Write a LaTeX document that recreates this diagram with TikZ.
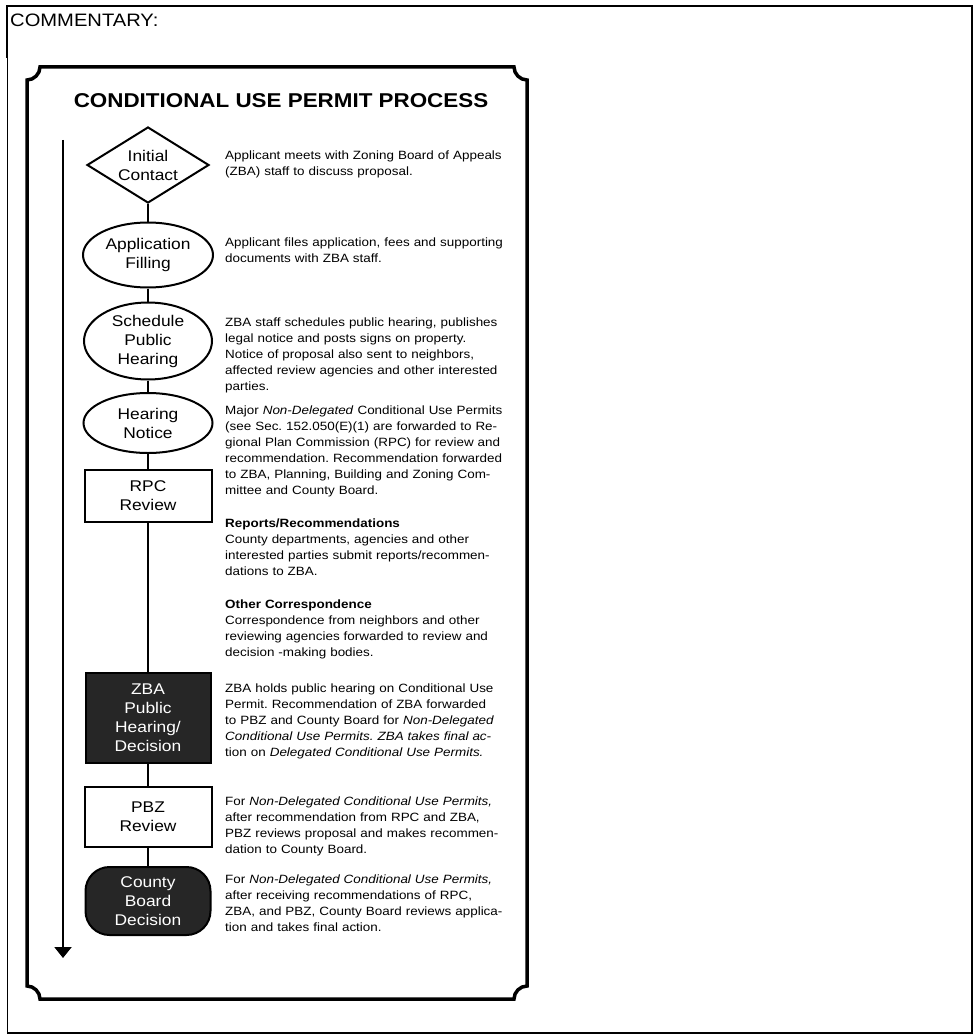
\documentclass[tikz,border=0pt]{standalone}
\usepackage{fontspec}
\setmainfont{Liberation Sans}[FakeStretch=1.12]
\usetikzlibrary{arrows.meta,shapes.geometric,positioning}

\newcommand\stagefont{\fontsize{15.5}{19}\selectfont}
\newcommand\notefont{\fontsize{12}{16}\selectfont\frenchspacing}

\begin{document}
\begin{tikzpicture}[x=1pt,y=-1pt,
    stage/.style={draw, line width=2pt, inner sep=0pt, align=center, font=\stagefont},
    oval/.style={stage, ellipse},
    stagebox/.style={stage, rectangle, minimum width=127pt},
    darkbox/.style={stagebox, fill=black!85, text=white},
    note/.style={anchor=base west, inner sep=0pt, text width=300pt, align=left, font=\notefont},
    link/.style={line width=2pt}]
        \useasboundingbox (0,0) rectangle (975,1035);

        % table cell
        \draw[line width=1.5pt] (7,58) -- (7,6) -- (972,6) -- (972,1033) -- (7,1033);
        \draw[line width=1pt] (7,58) -- (7,1033);
        \node[anchor=base west, inner sep=0pt, font=\fontsize{18}{20}\selectfont] (comment) at (10,27) {COMMENTARY:};

        % frame with notched corners
        \draw[line width=3.5pt] (40,67) -- (514,67) .. controls (514,74) and (520,80) .. (527,80)
            -- (527,986) .. controls (520,986) and (514,992) .. (514,999)
            -- (40,999) .. controls (40,992) and (34,986) .. (27,986)
            -- (27,80) .. controls (34,80) and (40,74) .. (40,67) -- cycle;

        \node[anchor=base, inner sep=0pt, font=\fontsize{20}{24}\selectfont\bfseries] (title) at (281,108) {CONDITIONAL USE PERMIT PROCESS};

        % stages
        \node[stage, diamond, aspect=1.6, minimum width=122pt, minimum height=76pt] (init) at (148,165) {Initial\\Contact};
        \node[oval, minimum width=130pt, minimum height=65pt] (filing) at (148,255) {Application\\Filling};
        \node[oval, minimum width=128pt, minimum height=77pt] (sched) at (148,341) {Schedule\\Public\\Hearing};
        \node[oval, minimum width=129pt, minimum height=60pt] (notice) at (148,423) {Hearing\\Notice};
        \node[stagebox, minimum height=52pt] (rpc) at (148,496) {RPC\\Review};
        \node[darkbox, minimum width=125pt, minimum height=90pt] (zba) at (148,718) {ZBA\\Public\\Hearing/\\Decision};
        \node[stagebox, minimum height=60pt] (pbz) at (148,817) {PBZ\\Review};
        \node[darkbox, minimum width=125pt, minimum height=68pt, rounded corners=24pt] (board) at (148,901) {County\\Board\\Decision};

        \draw[link] (init) -- (filing);
        \draw[link] (filing) -- (sched);
        \draw[link] (sched) -- (notice);
        \draw[link] (notice) -- (rpc);
        \draw[link] (rpc) -- (zba);
        \draw[link] (zba) -- (pbz);
        \draw[link] (pbz) -- (board);

        % time line
        \coordinate (flowtop) at (63,140);
        \coordinate (flowend) at (63,958);
        \draw[link, -{Triangle[width=17pt,length=11pt]}] (flowtop) -- (flowend);

        % notes
        \node[note] (initnote) at (225,160) {Applicant meets with Zoning Board of Appeals\\
            (ZBA) staff to discuss proposal.};
        \node[note] (filingnote) at (225,246) {Applicant files application, fees and supporting\\
            documents with ZBA staff.};
        \node[note] (schednote) at (225,326) {ZBA staff schedules public hearing, publishes\\
            legal notice and posts signs on property.\\
            Notice of proposal also sent to neighbors,\\
            affected review agencies and other interested\\
            parties.};
        \node[note] (rpcnote) at (225,414) {Major \textit{Non-Delegated} Conditional Use Permits\\
            (see Sec. 152.050(E)(1) are forwarded to Re-\\
            gional Plan Commission (RPC) for review and\\
            recommendation. Recommendation forwarded\\
            to ZBA, Planning, Building and Zoning Com-\\
            mittee and County Board.};
        \node[note] (reportnote) at (225,527) {\textbf{Reports/Recommendations}\\
            County departments, agencies and other\\
            interested parties submit reports/recommen-\\
            dations to ZBA.};
        \node[note] (othernote) at (225,608) {\textbf{Other Correspondence}\\
            Correspondence from neighbors and other\\
            reviewing agencies forwarded to review and\\
            decision -making bodies.};
        \node[note] (zbanote) at (225,692) {ZBA holds public hearing on Conditional Use\\
            Permit. Recommendation of ZBA forwarded\\
            to PBZ and County Board for \textit{Non-Delegated}\\
            \textit{Conditional Use Permits. ZBA takes final ac-}\\
            tion on \textit{Delegated Conditional Use Permits.}};
        \node[note] (pbznote) at (225,805) {For \textit{Non-Delegated Conditional Use Permits,}\\
            after recommendation from RPC and ZBA,\\
            PBZ reviews proposal and makes recommen-\\
            dation to County Board.};
        \node[note] (boardnote) at (225,883) {For \textit{Non-Delegated Conditional Use Permits,}\\
            after receiving recommendations of RPC,\\
            ZBA, and PBZ, County Board reviews applica-\\
            tion and takes final action.};
    \end{tikzpicture}
\end{document}
